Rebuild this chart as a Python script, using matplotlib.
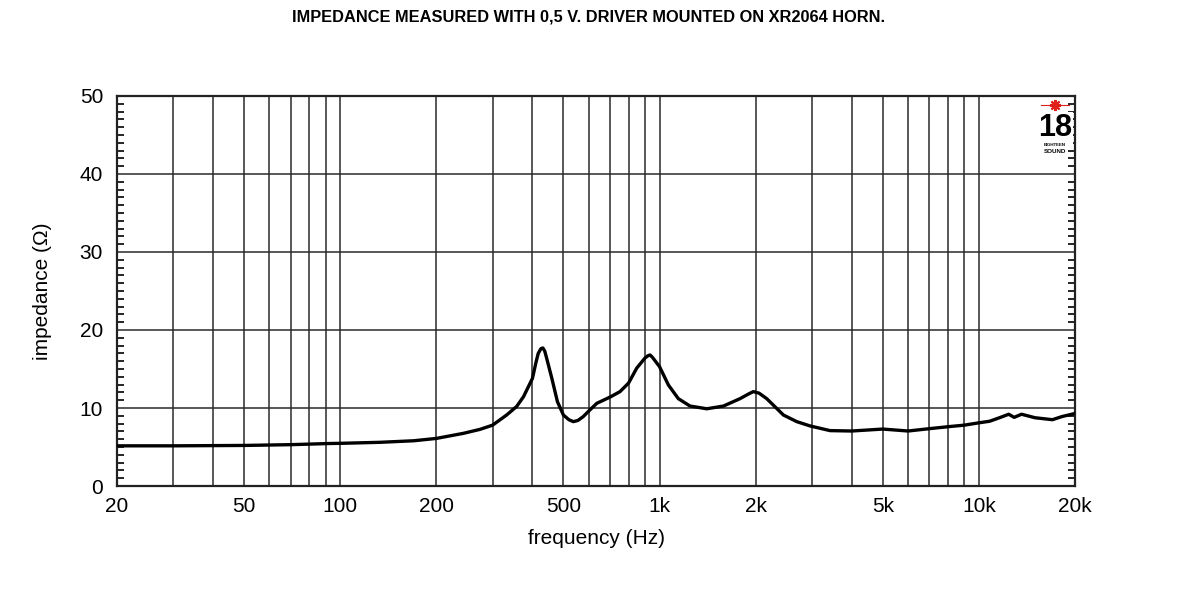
import matplotlib
matplotlib.use("Agg")
import matplotlib.pyplot as plt
from matplotlib.ticker import FixedLocator, MultipleLocator, NullFormatter

plt.rcParams['font.family'] = ['Liberation Sans', 'DejaVu Sans']

# Data
freq = [20, 30, 50, 70, 93, 100, 133, 170, 200, 243, 274, 300, 332, 357, 375, 400,
        410, 417, 425, 431, 437, 443, 460, 479, 500, 520, 537, 555, 577, 600, 636,
        700, 752, 800, 848, 900, 920, 934, 950, 1000, 1066, 1145, 1246, 1406, 1585,
        1787, 1900, 1967, 2050, 2166, 2443, 2690, 2961, 3420, 4000, 5000, 6000, 7000,
        8000, 9000, 10000, 10800, 11600, 12400, 12900, 13600, 15000, 17000, 18200,
        20000]
impedance = [5.15, 5.15, 5.2, 5.3, 5.45, 5.47, 5.6, 5.8, 6.1, 6.75, 7.26, 7.8, 9.1,
             10.2, 11.45, 13.8, 15.8, 17.0, 17.6, 17.7, 17.3, 16.4, 13.8, 10.8, 9.1,
             8.5, 8.25, 8.4, 8.9, 9.6, 10.6, 11.4, 12.1, 13.2, 15.1, 16.4, 16.7, 16.8,
             16.5, 15.3, 12.95, 11.2, 10.25, 9.9, 10.25, 11.2, 11.8, 12.1, 11.9, 11.2,
             9.1, 8.25, 7.7, 7.1, 7.05, 7.3, 7.05, 7.35, 7.6, 7.8, 8.1, 8.3, 8.75, 9.2,
             8.8, 9.2, 8.75, 8.5, 8.9, 9.3]

tick_freqs = [20, 50, 100, 200, 500, 1000, 2000, 5000, 10000, 20000]
tick_labels = ["20", "50", "100", "200", "500", "1k", "2k", "5k", "10k", "20k"]
grid_freqs = [30, 40, 60, 70, 80, 90, 300, 400, 600, 700, 800, 900,
              3000, 4000, 6000, 7000, 8000, 9000]
y_ticks = [0, 10, 20, 30, 40, 50]

title = "IMPEDANCE MEASURED WITH 0,5 V. DRIVER MOUNTED ON XR2064 HORN."

fig = plt.figure(figsize=(12, 5.97), dpi=100)
ax = fig.add_axes([117/1200, 1 - 486/597, (1075-117)/1200, (486-96)/597])

ax.set_xscale('log')
ax.set_xlim(20, 20000)
ax.set_ylim(0, 50)

gcol = '#2a2a2a'
ax.xaxis.set_major_locator(FixedLocator(tick_freqs))
ax.xaxis.set_minor_locator(FixedLocator(grid_freqs))
ax.xaxis.set_minor_formatter(NullFormatter())
ax.set_xticks(tick_freqs)
ax.set_xticklabels(tick_labels)
ax.set_yticks(y_ticks)
ax.yaxis.set_minor_locator(MultipleLocator(1))

ax.grid(True, which='both', axis='x', color=gcol, linewidth=1.1)
ax.grid(True, which='major', axis='y', color=gcol, linewidth=1.1)

ax.tick_params(axis='x', which='both', length=0, labelsize=15, pad=8)
ax.tick_params(axis='y', which='major', length=0, labelsize=15, pad=10)
ax.tick_params(axis='y', which='minor', direction='in', length=5, width=1.2,
               left=True, right=True, color='black')

for s in ax.spines.values():
    s.set_linewidth(1.6)
    s.set_color('#222222')

ax.plot(freq, impedance, color='black', linewidth=2.4, solid_capstyle='round',
        solid_joinstyle='round', zorder=5)

ax.set_xlabel("frequency (Hz)", fontsize=15)
ax.set_ylabel("impedance (\u03a9)", fontsize=15)
ax.xaxis.set_label_coords(0.5, (486 - 539) / 390)
ax.xaxis.label.set_va('center')
ax.yaxis.set_label_coords((42 - 117) / 958, 0.5)
ax.yaxis.label.set_va('center')

fig.text(589 / 1200, 1 - 17 / 597, title, ha='center', va='center',
         fontsize=11.8, fontweight='bold')

# logo
ax.plot([0.979], [0.977], transform=ax.transAxes, marker=(8, 2, 0), color='#e0201a',
        markersize=8, markeredgewidth=1.5, clip_on=False, zorder=6)
ax.plot([0.964, 0.994], [0.977, 0.977], transform=ax.transAxes, color='#e0201a',
        linewidth=0.8, clip_on=False, zorder=6)
ax.text(0.979, 0.918, "18", transform=ax.transAxes, ha='center', va='center',
        fontsize=22, fontweight='bold', family=['Liberation Sans Narrow', 'Liberation Sans'],
        zorder=6, bbox=dict(facecolor='white', edgecolor='none', pad=0.5))
ax.text(0.979, 0.875, "EIGHTEEN", transform=ax.transAxes, ha='center', va='center',
        fontsize=3.2, fontweight='bold', zorder=6)
ax.text(0.979, 0.858, "SOUND", transform=ax.transAxes, ha='center', va='center',
        fontsize=4.5, fontweight='bold', zorder=6)

fig.savefig("out.png", dpi=100, facecolor='white')
